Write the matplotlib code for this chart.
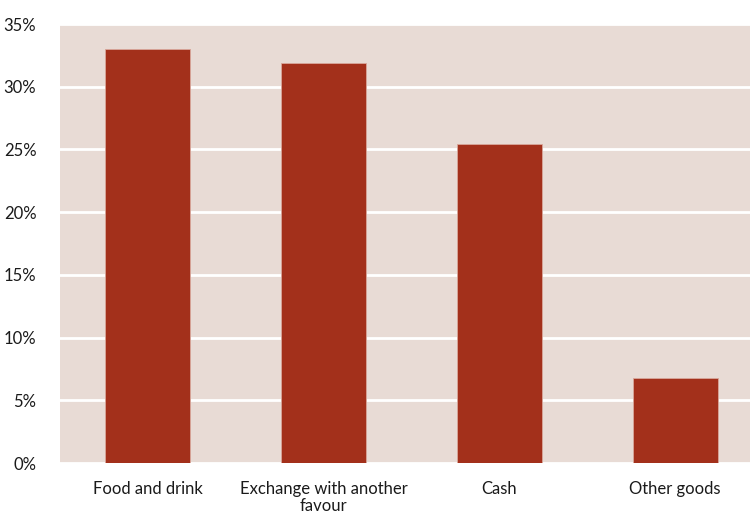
import matplotlib
matplotlib.use("Agg")
import matplotlib.pyplot as plt
from matplotlib.ticker import FuncFormatter, MultipleLocator

categories = ["Food and drink", "Exchange with another\nfavour", "Cash", "Other goods"]
values = [33.0, 31.9, 25.4, 6.8]

plt.rcParams['font.family'] = ['Lato', 'DejaVu Sans']

fig = plt.figure(figsize=(7.5, 5.16), dpi=100)
ax = fig.add_axes([60/750, (516-463)/516, 703/750, (463-24)/516])
ax.set_facecolor("#E8DBD5")
ax.bar(range(len(categories)), values, width=0.485, color="#A3301B",
       edgecolor="#D9A79B", linewidth=0.6, zorder=3)
ax.set_xlim(-0.5, len(categories) - 0.5)
ax.set_ylim(0, 35)
ax.yaxis.set_major_locator(MultipleLocator(5))
ax.yaxis.set_major_formatter(FuncFormatter(lambda v, p: f"{int(v)}%"))
ax.grid(axis="y", color="white", linewidth=2, zorder=1)
ax.set_xticks(range(len(categories)))
ax.set_xticklabels(categories, fontsize=12, color="#1a1a1a", linespacing=1.1)
ax.tick_params(axis="y", labelsize=12, colors="#1a1a1a", length=0, pad=17)
ax.tick_params(axis="x", length=0, pad=13)
for s in ax.spines.values():
    s.set_visible(False)

fig.savefig("out.png", dpi=100)
